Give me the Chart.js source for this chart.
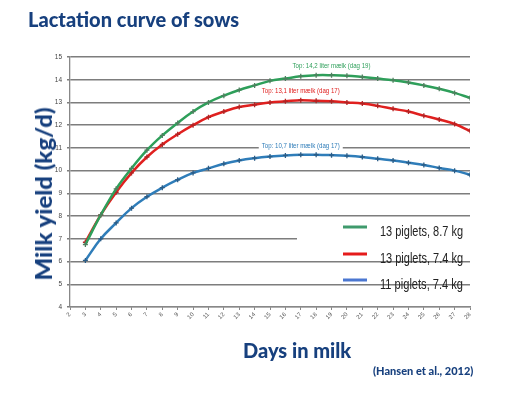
<!DOCTYPE html>
<html>
<head>
<meta charset="utf-8">
<script src="https://cdn.jsdelivr.net/npm/chart.js@4/dist/chart.umd.min.js"></script>
<style>
  body { margin:0; background:#fff; }
  #wrap { position:relative; width:529px; height:396px; overflow:hidden; }
  #c { position:absolute; left:0; top:0; }
  .t { position:absolute; font-family:Lato, "Open Sans", sans-serif; font-weight:900; color:#17407e; white-space:nowrap; }
  #title { left:28px; top:7px; font-size:20px; }
  #ytitle { left:43px; top:194px; font-size:23px; transform:translate(-50%,-50%) rotate(-90deg) scaleX(1.04); }
  #xtitle { left:243px; top:338px; font-size:20px; }
  #cite { left:373px; top:364px; font-size:11px; }
</style>
</head>
<body>
<div id="wrap">
  <canvas id="c" width="529" height="396"></canvas>
  <div class="t" id="title">Lactation curve of sows</div>
  <div class="t" id="ytitle">Milk yield (kg/d)</div>
  <div class="t" id="xtitle">Days in milk</div>
  <div class="t" id="cite">(Hansen et al., 2012)</div>
</div>
<script>
// days in milk
var days = [3,4,5,6,7,8,9,10,11,12,13,14,15,16,17,18,19,20,21,22,23,24,25,26,27,28];
// 13 piglets, 8.7 kg
var green = [6.75,8.05,9.2,10.1,10.9,11.55,12.1,12.6,13.0,13.3,13.55,13.75,13.95,14.05,14.15,14.2,14.2,14.18,14.12,14.05,13.98,13.88,13.75,13.6,13.42,13.2];
// 13 piglets, 7.4 kg
var red = [6.85,8.05,9.05,9.9,10.6,11.15,11.6,12.0,12.35,12.6,12.8,12.9,13.0,13.05,13.1,13.07,13.05,13.0,12.95,12.85,12.72,12.6,12.42,12.25,12.05,11.75];
// 11 piglets, 7.4 kg
var blue = [6.05,7.0,7.7,8.35,8.85,9.25,9.6,9.9,10.1,10.3,10.45,10.55,10.62,10.67,10.7,10.7,10.68,10.65,10.6,10.52,10.45,10.35,10.25,10.12,10.0,9.82];

var seriesNames = ['13 piglets, 8.7 kg','13 piglets, 7.4 kg','11 piglets, 7.4 kg'];
var topLabels = ['Top: 14,2 liter mælk (dag 19)','Top: 13,1 liter mælk (dag 17)','Top: 10,7 liter mælk (dag 17)'];
var topDays = [19,17,17];
var topValues = [14.2,13.1,10.7];

var lineColors = ['#2e9f5a','#e0201f','#2f7db9'];
var markColors = ['#4f7f5f','#b02424','#2b5c86'];
var legendColors = ['#3f9a6c','#e51b1b','#4b77d1'];

function pts(arr){
  return days.map(function(d,i){ return {x:d, y:arr[i]}; });
}

// draws text squeezed/stretched to a given width
function fitText(ctx, text, x, y, w){
  var m = ctx.measureText(text).width;
  ctx.save();
  ctx.translate(x, y);
  ctx.scale(w/m, 1);
  ctx.fillText(text, 0, 0);
  ctx.restore();
}

var extras = {
  id:'extras',
  beforeDatasetsDraw: function(chart){
    var ctx = chart.ctx;
    // legend box (white, hides the 7 line)
    ctx.save();
    ctx.fillStyle = '#fff';
    ctx.fillRect(297, 222, 176, 24);
    ctx.font = '15px "Liberation Sans", Arial, sans-serif';
    ctx.textBaseline = 'middle';
    ctx.fillStyle = '#222';
    var ly = [227,254,280];
    for(var i=0;i<seriesNames.length;i++){
      ctx.strokeStyle = legendColors[i];
      ctx.lineWidth = 3;
      ctx.beginPath();
      ctx.moveTo(343, ly[i]);
      ctx.lineTo(367, ly[i]);
      ctx.stroke();
      fitText(ctx, seriesNames[i], 380, ly[i]+5, 83);
    }
    // peak labels
    var xs = chart.scales.x, ys = chart.scales.y;
    ctx.font = '7px "Liberation Sans", Arial, sans-serif';
    for(var j=0;j<topLabels.length;j++){
      var cx = xs.getPixelForValue(topDays[j]);
      var cy = ys.getPixelForValue(topValues[j]) - 9;
      ctx.fillStyle = '#fff';
      ctx.fillRect(cx-42, cy-4, 84, 8);
      ctx.fillStyle = lineColors[j];
      fitText(ctx, topLabels[j], cx-39, cy, 78);
    }
    ctx.restore();
  }
};

new Chart(document.getElementById('c'), {
  type:'line',
  data:{
    datasets:[0,1,2].map(function(k){
      return {
        label: seriesNames[k],
        data: pts([green,red,blue][k]),
        borderColor: lineColors[k],
        borderWidth: 2.5,
        tension: 0.4,
        pointStyle: 'cross',
        pointRadius: 2.5,
        pointBorderWidth: 1.3,
        pointBorderColor: markColors[k],
        pointBackgroundColor: markColors[k]
      };
    })
  },
  options:{
    responsive:false,
    animation:false,
    layout:{ padding:{ top:57, right:59, bottom:69, left:0 } },
    plugins:{ legend:{ display:false }, tooltip:{ enabled:false } },
    scales:{
      x:{
        type:'linear', min:2, max:28,
        afterFit: function(s){ s.height = 20; },
        ticks:{ stepSize:1, autoSkip:false, minRotation:45, maxRotation:45, padding:1,
          font:{ size:6, family:'"Liberation Sans", Arial' }, color:'#555' },
        grid:{ drawOnChartArea:false, drawTicks:true, tickLength:3, color:'#888' },
        border:{ color:'#888', width:1.3 }
      },
      y:{
        min:4, max:15,
        afterFit: function(s){ s.width = 70; },
        ticks:{ stepSize:1, padding:5, font:{ size:6.5, family:'"Liberation Sans", Arial' }, color:'#444' },
        grid:{ color:'#7d7d7d', lineWidth:1.4, tickLength:3 },
        border:{ color:'#888', width:1.3 }
      }
    }
  },
  plugins:[extras]
});
</script>
</body>
</html>
